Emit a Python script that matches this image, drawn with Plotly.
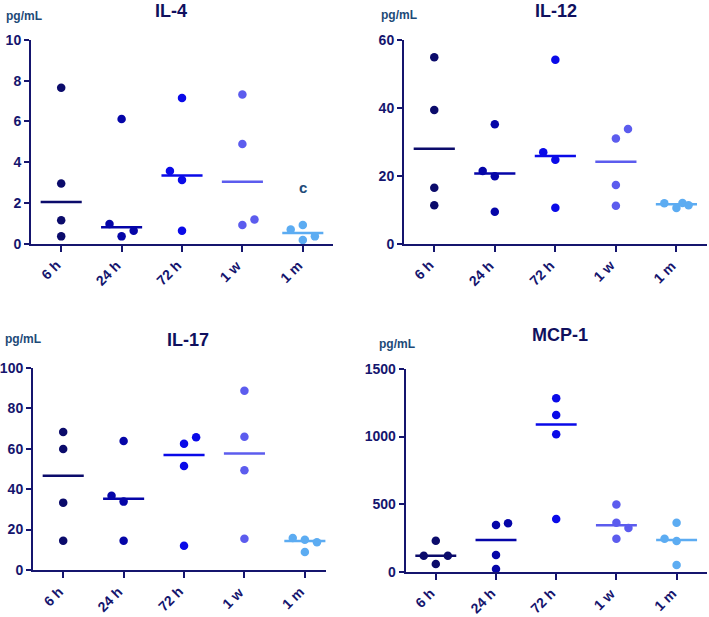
import numpy as np
import plotly.graph_objects as go

W, H = 709, 617

categories = ["6 h", "24 h", "72 h", "1 w", "1 m"]

# values per panel, per group
il4 = [[7.66, 2.95, 1.15, 0.36],
       [6.12, 0.97, 0.36, 0.64],
       [7.15, 3.57, 3.13, 0.64],
       [7.33, 4.89, 0.92, 1.19],
       [0.70, 0.92, 0.18, 0.36]]
il12 = [[54.9, 39.4, 16.5, 11.3],
        [35.2, 21.4, 19.9, 9.4],
        [54.2, 26.9, 24.7, 10.6],
        [31.0, 33.8, 17.3, 11.2],
        [11.9, 10.5, 12.0, 11.3]]
il17 = [[68.2, 59.8, 33.3, 14.5],
        [63.8, 36.7, 33.8, 14.5],
        [62.4, 65.6, 51.4, 12.0],
        [88.6, 65.9, 49.3, 15.5],
        [15.8, 15.0, 13.7, 8.9]]
mcp1 = [[229, 118, 118, 57],
        [345, 358, 123, 20],
        [1283, 1160, 1017, 390],
        [498, 363, 323, 244],
        [363, 244, 227, 49]]

panel_titles = ["IL-4", "IL-12", "IL-17", "MCP-1"]
y_ticks = [[0, 2, 4, 6, 8, 10], [0, 20, 40, 60], [0, 20, 40, 60, 80, 100], [0, 500, 1000, 1500]]
letters = [("c", 4, 2.75), None, None, ("a", 2, 1560)]

# horizontal jitter (layout, in category units)
jit = {
    0: [[0, 0, 0, 0], [0, -0.2, 0, 0.2], [0, -0.2, 0, 0], [0, 0, 0, 0.2], [-0.2, 0, 0, 0.2]],
    1: [[0, 0, 0, 0], [0, -0.2, 0, 0], [0, -0.2, 0, 0], [0, 0.2, 0, 0], [-0.2, 0, 0.1, 0.2]],
    2: [[0, 0, 0, 0], [0, -0.2, 0, 0], [0, 0.2, 0, 0], [0, 0, 0, 0], [-0.2, 0, 0.2, 0]],
    3: [[0, -0.2, 0.2, 0], [0, 0.2, 0, 0], [0, 0, 0, 0], [0, 0, 0.2, 0], [0, -0.2, 0, 0]],
}

colors = ["#0b0b6b", "#0505a8", "#0a0ae8", "#5c5cee", "#5cacf2"]
navy = "#15156e"
textblue = "#1d4a78"
FONT = "Liberation Sans"

data = [il4, il12, il17, mcp1]

# panel boxes in pixels: x0, x1, ytop, ybottom, xrange
boxes = [
    (31, 333, 40, 243.7, [-0.5, 4.5]),
    (404, 706.7, 40, 243.7, [-0.5, 4.5]),
    (33, 326, 367.7, 570, [-0.5, 4.35]),
    (405.7, 706.7, 369, 571.7, [-0.5, 4.5]),
]
yranges = [[0, 10], [0, 60], [0, 100], [0, 1500]]

fig = go.Figure()
layout = dict(width=W, height=H, margin=dict(l=0, r=0, t=0, b=0, autoexpand=False),
              paper_bgcolor="white", plot_bgcolor="white", showlegend=False)
annotations = []

for p in range(4):
    sfx = "" if p == 0 else str(p + 1)
    xa, ya = "x" + sfx, "y" + sfx
    x0, x1, yt, yb, xr = boxes[p]
    layout["xaxis" + sfx] = dict(
        domain=[x0 / W, x1 / W], range=xr, anchor=ya, automargin=False,
        tickmode="array", tickvals=list(range(5)), ticktext=categories,
        showticklabels=False, showline=True, linecolor=navy, linewidth=2,
        ticks="outside", ticklen=6, tickwidth=2, tickcolor=navy,
        showgrid=False, zeroline=False)
    layout["yaxis" + sfx] = dict(
        domain=[1 - yb / H, 1 - yt / H], range=yranges[p], anchor=xa, automargin=False,
        tickmode="array", tickvals=y_ticks[p],
        showline=True, linecolor=navy, linewidth=2,
        ticks="outside", ticklen=5, tickwidth=2, tickcolor=navy,
        showgrid=False, zeroline=False,
        tickfont=dict(family=FONT, size=14, color=navy, weight="bold"))
    # rotated category labels
    for g, lab in enumerate(categories):
        annotations.append(dict(text=lab, x=g, y=1 - (yb + 11) / H, xref=xa, yref="paper",
                                showarrow=False, xanchor="right", yanchor="top",
                                xshift=5, textangle=-45,
                                font=dict(family=FONT, size=14, color=navy, weight="bold")))
    for g in range(5):
        vals = data[p][g]
        med = float(np.median(vals))
        fig.add_trace(go.Scatter(
            x=[g - 0.34, g + 0.34], y=[med, med], mode="lines",
            line=dict(color=colors[g], width=2.5), xaxis=xa, yaxis=ya,
            hoverinfo="skip"))
        fig.add_trace(go.Scatter(
            x=[g + j for j in jit[p][g]], y=vals, mode="markers",
            marker=dict(color=colors[g], size=8.5, line=dict(width=0)),
            xaxis=xa, yaxis=ya, cliponaxis=False))
    # title
    cx = [171, 556, 188, 559.7][p]
    cy = [11, 11, 340, 335][p]
    annotations.append(dict(text=panel_titles[p], x=cx / W, y=1 - cy / H,
                            xref="paper", yref="paper", showarrow=False,
                            xanchor="center", yanchor="middle",
                            font=dict(family=FONT, size=18, color="#10105e", weight="bold")))
    # unit label
    ux = [4, 379, 3, 377][p]
    uy = [16, 15, 339, 344][p]
    annotations.append(dict(text="pg/mL", x=ux / W, y=1 - uy / H,
                            xref="paper", yref="paper", showarrow=False,
                            xanchor="left", yanchor="middle",
                            font=dict(family=FONT, size=12, color=textblue, weight="bold")))
    if letters[p]:
        t, gx, gy = letters[p]
        annotations.append(dict(text=t, x=gx, y=gy, xref=xa, yref=ya,
                                showarrow=False, xanchor="center", yanchor="middle",
                                font=dict(family=FONT, size=15, color=textblue, weight="bold")))

layout["annotations"] = annotations
fig.update_layout(**layout)
fig.write_html("out.html", config={"displayModeBar": False},
               post_script="document.body.style.margin='0';document.body.style.overflow='hidden';")
